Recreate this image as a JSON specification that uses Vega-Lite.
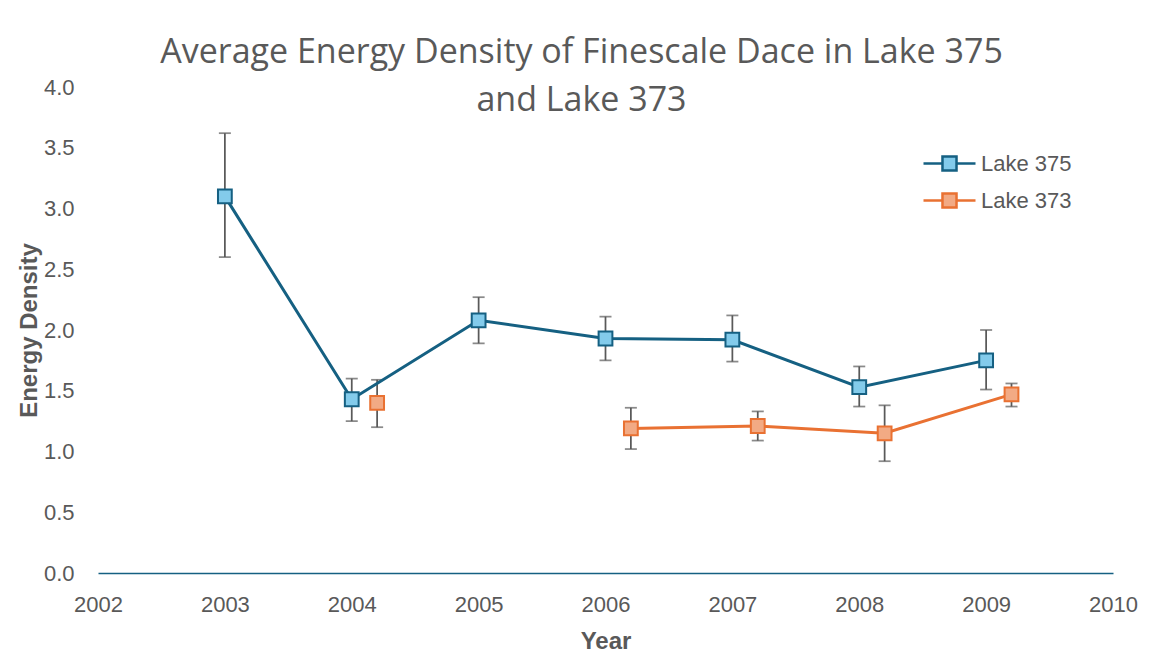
{
  "$schema": "https://vega.github.io/schema/vega-lite/v6.json",
  "autosize": {"type": "none"},
  "width": 1015,
  "height": 486,
  "padding": {"left": 98, "top": 87, "right": 43, "bottom": 89},
  "background": "white",
  "title": {
    "text": ["Average Energy Density of Finescale Dace in Lake 375", "and Lake 373"],
    "anchor": "middle",
    "frame": "group",
    "font": "Open Sans",
    "fontWeight": 400,
    "fontSize": 34,
    "color": "#595959",
    "baseline": "top",
    "lineHeight": 48,
    "offset": 0,
    "dx": -24,
    "dy": 42
  },
  "config": {
    "view": {"stroke": null},
    "font": "Liberation Sans",
    "axis": {"grid": false, "ticks": false, "labelColor": "#595959", "labelFontSize": 22, "titleColor": "#595959", "titleFontSize": 24, "titleFontWeight": "bold", "labelFont": "Liberation Sans", "titleFont": "Liberation Sans"}
  },
  "data": {
    "values": [
      {"Lake": "Lake 375", "Year": 2003, "ED": 3.10, "lo": 2.60, "hi": 3.62},
      {"Lake": "Lake 375", "Year": 2004, "ED": 1.43, "lo": 1.25, "hi": 1.60},
      {"Lake": "Lake 375", "Year": 2005, "ED": 2.08, "lo": 1.89, "hi": 2.27},
      {"Lake": "Lake 375", "Year": 2006, "ED": 1.93, "lo": 1.75, "hi": 2.11},
      {"Lake": "Lake 375", "Year": 2007, "ED": 1.92, "lo": 1.74, "hi": 2.12},
      {"Lake": "Lake 375", "Year": 2008, "ED": 1.53, "lo": 1.37, "hi": 1.70},
      {"Lake": "Lake 375", "Year": 2009, "ED": 1.75, "lo": 1.51, "hi": 2.00},
      {"Lake": "Lake 373", "Year": 2004.2, "ED": 1.40, "lo": 1.20, "hi": 1.59},
      {"Lake": "Lake 373", "Year": 2005.2, "ED": null, "lo": null, "hi": null},
      {"Lake": "Lake 373", "Year": 2006.2, "ED": 1.19, "lo": 1.02, "hi": 1.36},
      {"Lake": "Lake 373", "Year": 2007.2, "ED": 1.21, "lo": 1.09, "hi": 1.33},
      {"Lake": "Lake 373", "Year": 2008.2, "ED": 1.15, "lo": 0.92, "hi": 1.38},
      {"Lake": "Lake 373", "Year": 2009.2, "ED": 1.47, "lo": 1.37, "hi": 1.56}
    ]
  },
  "layer": [
    {
      "mark": {"type": "rule", "color": "#595959", "strokeWidth": 1.75},
      "encoding": {
        "x": {"field": "Year", "type": "quantitative", "scale": {"domain": [2002, 2010], "nice": false, "zero": false},
          "axis": {"values": [2002, 2003, 2004, 2005, 2006, 2007, 2008, 2009, 2010], "format": "d", "title": "Year", "domainColor": "#156082", "domainWidth": 1.5, "labelPadding": 21, "titlePadding": 14, "labelFlush": false}},
        "y": {"field": "lo", "type": "quantitative", "scale": {"domain": [0, 4], "nice": false},
          "axis": {"values": [0, 0.5, 1, 1.5, 2, 2.5, 3, 3.5, 4], "format": ".1f", "title": "Energy Density", "domain": false, "labelPadding": 24, "titlePadding": 2}},
        "y2": {"field": "hi"}
      }
    },
    {
      "mark": {"type": "tick", "color": "#595959", "orient": "horizontal", "size": 12, "thickness": 1.75},
      "encoding": {"x": {"field": "Year", "type": "quantitative"}, "y": {"field": "lo", "type": "quantitative"}}
    },
    {
      "mark": {"type": "tick", "color": "#595959", "orient": "horizontal", "size": 12, "thickness": 1.75},
      "encoding": {"x": {"field": "Year", "type": "quantitative"}, "y": {"field": "hi", "type": "quantitative"}}
    },
    {
      "mark": {"type": "line", "strokeWidth": 3, "invalid": "break-paths-show-domains"},
      "encoding": {
        "x": {"field": "Year", "type": "quantitative"},
        "y": {"field": "ED", "type": "quantitative"},
        "stroke": {"field": "Lake", "type": "nominal", "scale": {"domain": ["Lake 375", "Lake 373"], "range": ["#156082", "#E97132"]},
          "legend": {"title": null, "orient": "none", "legendX": 837, "legendY": 62, "symbolType": "M-2,0H-0.54M0.54,0H2M-0.54,-0.54H0.54V0.54H-0.54Z", "symbolSize": 676, "symbolStrokeWidth": 2.5, "labelFontSize": 22, "labelColor": "#595959", "labelOffset": 17, "rowPadding": 10, "labelFont": "Liberation Sans"}}
      }
    },
    {
      "mark": {"type": "point", "shape": "square", "size": 190, "filled": true, "strokeWidth": 2, "opacity": 1},
      "encoding": {
        "x": {"field": "Year", "type": "quantitative"},
        "y": {"field": "ED", "type": "quantitative"},
        "stroke": {"field": "Lake", "type": "nominal"},
        "fill": {"field": "Lake", "type": "nominal", "scale": {"domain": ["Lake 375", "Lake 373"], "range": ["#83CBEB", "#F2AA84"]},
          "legend": {"title": null, "orient": "none", "legendX": 837, "legendY": 62, "symbolType": "M-2,0H-0.54M0.54,0H2M-0.54,-0.54H0.54V0.54H-0.54Z", "symbolSize": 676, "symbolStrokeWidth": 2.5, "labelFontSize": 22, "labelColor": "#595959", "labelOffset": 17, "rowPadding": 10, "labelFont": "Liberation Sans"}}
      }
    }
  ]
}
